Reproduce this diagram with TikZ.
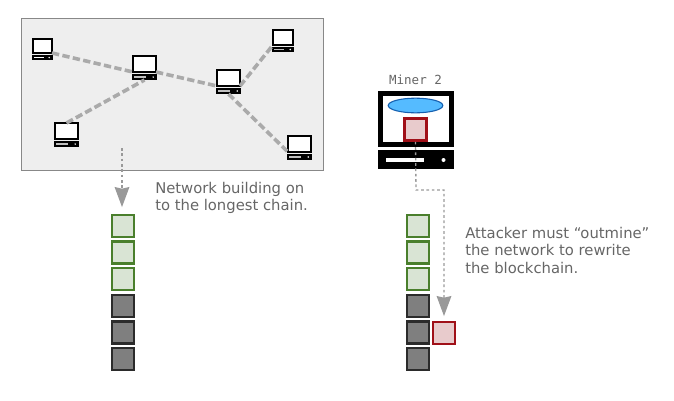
\documentclass[tikz,border=0pt]{standalone}
\usepackage{fontspec}
\setmainfont{DejaVu Sans}
\setmonofont{DejaVu Sans Mono}
\usetikzlibrary{arrows.meta,shapes.geometric}
\definecolor{panelgray}{HTML}{EEEEEE}
\definecolor{panelline}{HTML}{888888}
\definecolor{linkgray}{HTML}{AAAAAA}
\definecolor{pathgray}{HTML}{999999}
\definecolor{labelgray}{HTML}{666666}
\definecolor{greenline}{HTML}{4A7F2C}
\definecolor{greenfill}{HTML}{D9E4D4}
\definecolor{redline}{HTML}{A01018}
\definecolor{redfill}{HTML}{E8CBCC}
\definecolor{oldfill}{HTML}{7F7F7F}
\definecolor{oldline}{HTML}{2B2B2B}
\definecolor{blueline}{HTML}{1560B0}
\definecolor{bluefill}{HTML}{55BBFF}
\tikzset{
  block/.style={draw, line width=1.9pt, inner sep=0pt, minimum size=16.5pt},
  newblock/.style={block, draw=greenline, fill=greenfill},
  oldblock/.style={block, draw=oldline, fill=oldfill},
  badblock/.style={block, draw=redline, fill=redfill},
  link/.style={draw=linkgray, line width=2.7pt, dash pattern=on 5.5pt off 2.5pt},
  trail/.style={draw=pathgray, line width=1pt, dash pattern=on 2pt off 2pt,
    -{Stealth[fill=pathgray, length=15pt, width=11pt, inset=1.2pt]}},
  note/.style={text=labelgray, anchor=north west, align=left, inner sep=0pt,
    font=\fontsize{11.1}{13.3}\selectfont},
  pcpart/.style={inner sep=0pt, outer sep=0pt, anchor=north west},
}
\begin{document}
\begin{tikzpicture}[x=0.75pt, y=-0.75pt]
  \useasboundingbox (0,0) rectangle (674,400);

  \node [pcpart, draw=panelline, fill=panelgray, line width=0.75pt,
    minimum width=227pt, minimum height=114pt] (panel) at (21,18) {};

  % small computers
  \foreach \name/\x/\y/\w/\h/\b/\slot in {
      pcA/33/39/19/14/5/white, pcB/133/56/23/16/6/lightgray,
      pcC/217/70/23/16/6/lightgray, pcD/273/30/20/15/5/lightgray,
      pcE/288/136/23/16/6/lightgray, pcF/55/123/23/16/6/lightgray}{
    \node [pcpart, draw=black, fill=white, line width=1.8pt,
      minimum width=\w*0.75pt, minimum height=\h*0.75pt] (\name) at (\x,\y) {};
    \node [pcpart, fill=black, minimum width=\w*0.75pt+1.8pt, minimum height=\b*0.75pt,
      anchor=north] (\name-base) at ([yshift=-1.5pt]\name.south) {};
    \node [pcpart, fill=\slot, minimum width=\w*0.39pt, minimum height=1.2pt, anchor=west]
      (\name-slot) at ([xshift=1.5pt]\name-base.west) {};
    \node [pcpart, circle, fill=white, minimum size=1.2pt, anchor=center]
      (\name-dot) at ([xshift=-3pt]\name-base.east) {};
  }

  \draw [link] (pcA.south east) -- (pcB.south west);
  \draw [link] (pcB.south east) -- (pcC.south west);
  \draw [link] (pcF.north) -- (pcB-base.south);
  \draw [link] (pcC.south east) -- (pcD.south west);
  \draw [link] (pcC-base.south) -- (pcE.south west);

  % miner
  \node [font=\ttfamily\fontsize{9.4}{11}\selectfont, text=labelgray] (minerlabel) at (415.5,80) {Miner 2};
  \node [pcpart, draw=black, fill=white, line width=3.75pt,
    minimum width=53pt, minimum height=38.5pt] (screen) at (380.5,93) {};
  \node [pcpart, fill=black, minimum width=57pt, minimum height=14.5pt] (tower) at (378,150) {};
  \node [pcpart, fill=white, minimum width=29pt, minimum height=3.5pt] (towerslot) at (385.5,157.5) {};
  \node [pcpart, circle, fill=white, minimum size=3pt, anchor=center] (towerdot) at (443.5,160) {};
  \node [pcpart, ellipse, draw=blueline, fill=bluefill, line width=0.8pt,
    minimum width=41pt, minimum height=11pt, anchor=center] (chainblob) at (415.5,105.5) {};

  % chains
  \foreach \name/\x in {L/123, R/418}{
    \node [newblock] (\name1) at (\x,226) {};
    \node [newblock] (\name2) at (\x,252.5) {};
    \node [newblock] (\name3) at (\x,279) {};
    \node [oldblock] (\name4) at (\x,306) {};
    \node [oldblock] (\name5) at (\x,332.5) {};
    \node [oldblock] (\name6) at (\x,359) {};
  }
  \node [badblock] (fork) at (444,333) {};
  \node [badblock] (minerblock) at (415.5,129.5) {};

  \coordinate (netstart) at (122,148);
  \coordinate (bendA) at (416,190);
  \coordinate (bendB) at (444,190);

  \draw [trail, shorten >=5pt] (netstart) -- (L1.north -| netstart);
  \draw [trail, shorten >=3.5pt] (minerblock.south) -- (bendA) -- (bendB) -- (fork.north);

  \node [note] (netnote) at (155,181.5) {Network building on\\to the longest chain.};
  \node [note] (attnote) at (465,226.5) {Attacker must “outmine”\\the network to rewrite\\the blockchain.};
\end{tikzpicture}
\end{document}
